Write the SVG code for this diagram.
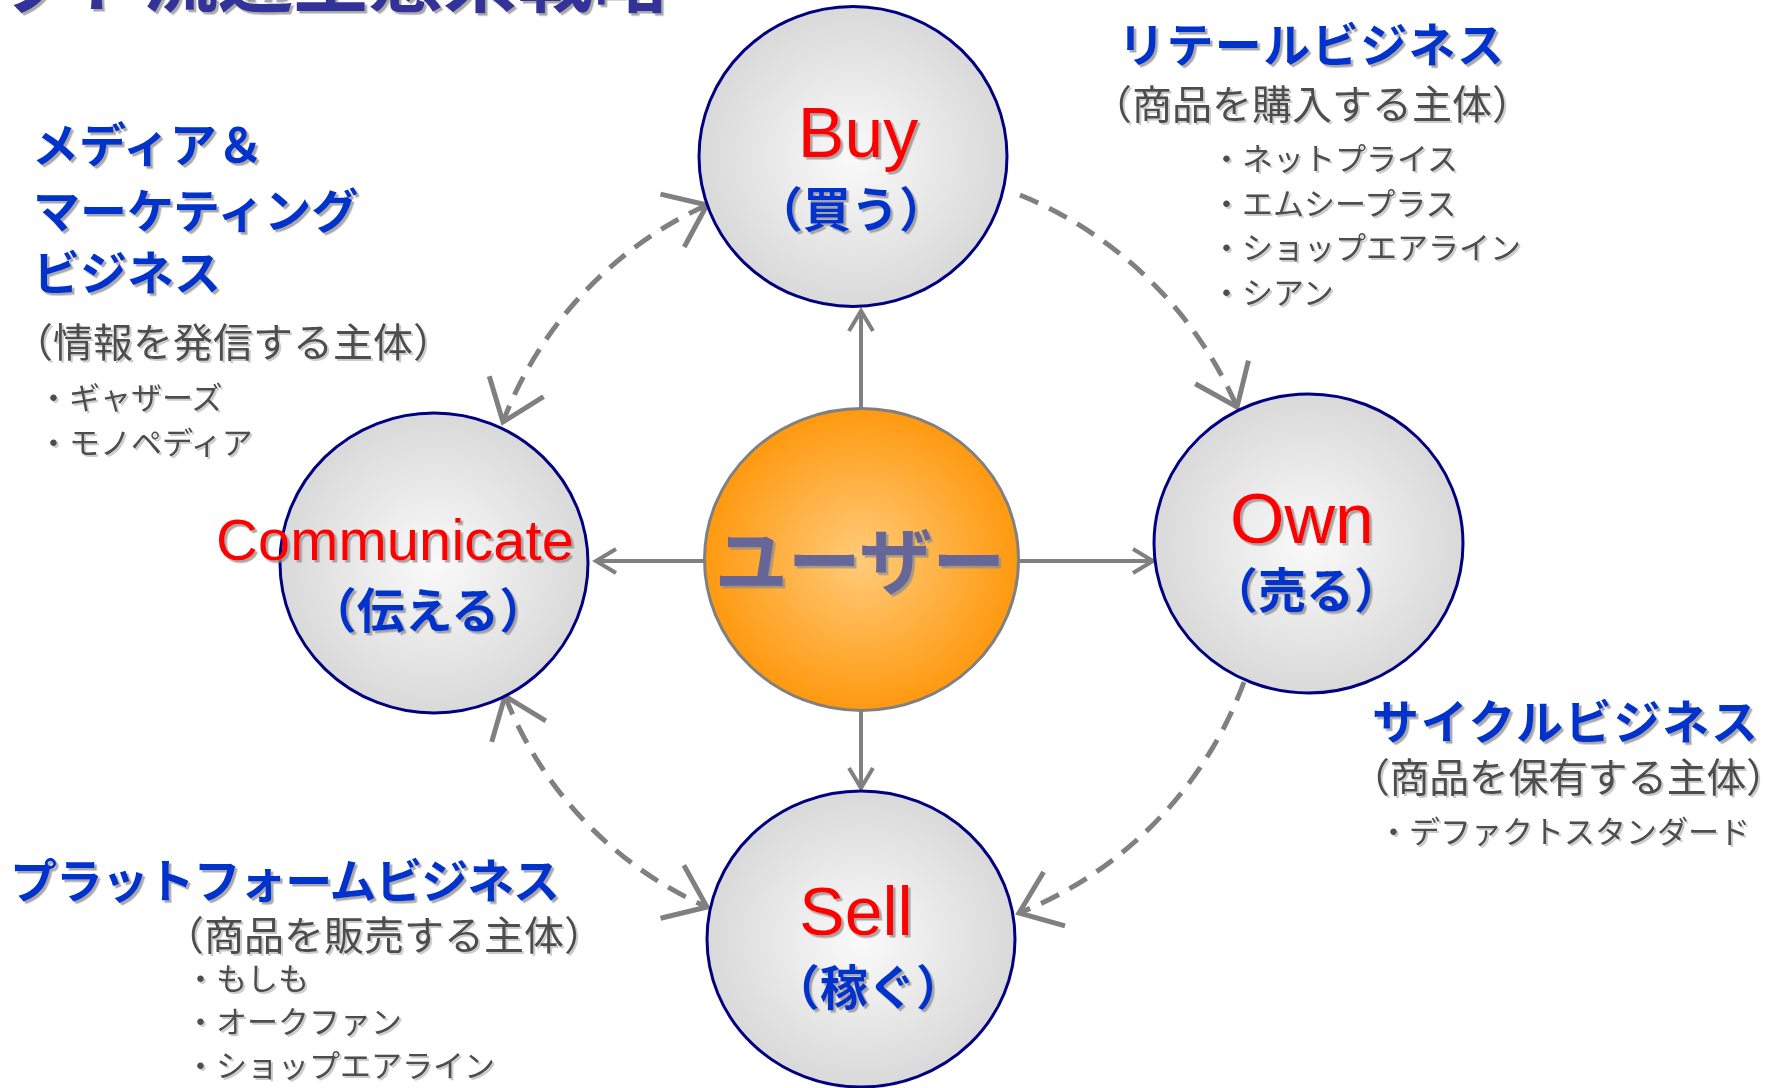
<svg xmlns="http://www.w3.org/2000/svg" width="1789" height="1088" viewBox="0 0 1789 1088">
<defs>
<style>
.jp{font-family:"Noto Sans CJK JP","Noto Sans CJK SC",sans-serif;}
.lat{font-family:"Liberation Sans",Arial,sans-serif;}
.head{font-size:47px;font-weight:700;fill:#0033CC;filter:url(#ts);}
.sub{font-size:40px;fill:#4D4D4D;filter:url(#ts2);}
.item{font-size:31px;fill:#4D4D4D;filter:url(#ts2);}
.en{font-size:70px;fill:#FF0000;filter:url(#ts);}
.ja{font-size:48px;font-weight:700;fill:#0033CC;filter:url(#ts);}
.node{fill:url(#gNode);stroke:#000080;stroke-width:3;}
.dash{fill:none;stroke:#808080;stroke-width:5;stroke-dasharray:20 12;}
.solid{fill:none;stroke:#808080;stroke-width:4;}
</style>
<filter id="ts" x="-5%" y="-10%" width="115%" height="130%">
<feDropShadow dx="2.5" dy="2.5" stdDeviation="0.6" flood-color="#8C8C8C" flood-opacity="0.75"/>
</filter>
<filter id="ts2" x="-5%" y="-10%" width="115%" height="130%">
<feDropShadow dx="2" dy="2" stdDeviation="0.6" flood-color="#AAAAAA" flood-opacity="0.6"/>
</filter>
<radialGradient id="gNode" cx="50%" cy="50%" r="50%">
<stop offset="0" stop-color="#FAFAFA"/>
<stop offset="1" stop-color="#D9D9D9"/>
</radialGradient>
<radialGradient id="gUser" cx="50%" cy="50%" r="50%">
<stop offset="0" stop-color="#FFCB7A"/>
<stop offset="1" stop-color="#FF990F"/>
</radialGradient>
<marker id="vhead" markerUnits="userSpaceOnUse" markerWidth="60" markerHeight="70" viewBox="-45 -35 50 70" refX="0" refY="0" orient="auto-start-reverse" overflow="visible">
<path d="M -38 -29 L 0 0 L -38 29" fill="none" stroke="#808080" stroke-width="5"/>
</marker>
<marker id="shead" markerUnits="userSpaceOnUse" markerWidth="30" markerHeight="30" viewBox="-25 -15 30 30" refX="0" refY="0" orient="auto" overflow="visible">
<path d="M -20 -12 L 0 0 L -20 12" fill="none" stroke="#808080" stroke-width="4"/>
</marker>
</defs>

<rect x="0" y="0" width="1789" height="1088" fill="#FFFFFF"/>

<g id="title">
<text class="jp" x="-82" y="6" font-size="75" font-weight="700" fill="#333399" filter="url(#ts)">ネット流通生態系戦略</text>
</g>

<g id="connectors">
<path class="dash" d="M 707 205 A 388 388 0 0 0 503 422" marker-start="url(#vhead)" marker-end="url(#vhead)"/>
<path class="dash" d="M 1020 195 A 402 402 0 0 1 1237 407" marker-end="url(#vhead)"/>
<path class="dash" d="M 1244 682 A 395 395 0 0 1 1019 913" marker-end="url(#vhead)"/>
<path class="dash" d="M 505 696 A 381 381 0 0 0 707 907" marker-start="url(#vhead)" marker-end="url(#vhead)"/>
<path class="solid" d="M 861 408 L 861 311" marker-end="url(#shead)"/>
<path class="solid" d="M 861 711 L 861 788" marker-end="url(#shead)"/>
<path class="solid" d="M 704 561 L 596 561" marker-end="url(#shead)"/>
<path class="solid" d="M 1019 561 L 1153 561" marker-end="url(#shead)"/>
</g>

<g id="node-buy">
<ellipse class="node" cx="853" cy="156.5" rx="154" ry="150"/>
<text class="lat en" x="858" y="157" text-anchor="middle">Buy</text>
<text class="jp ja" x="851" y="227" text-anchor="middle">（買う）</text>
</g>

<g id="node-communicate">
<ellipse class="node" cx="434" cy="563" rx="154" ry="150"/>
<text class="lat en" x="395" y="560" text-anchor="middle" style="font-size:58px">Communicate</text>
<text class="jp ja" x="428" y="628" text-anchor="middle">（伝える）</text>
</g>

<g id="node-own">
<ellipse class="node" cx="1308.5" cy="543.5" rx="154.5" ry="149.5"/>
<text class="lat en" x="1302" y="543" text-anchor="middle">Own</text>
<text class="jp ja" x="1306" y="608" text-anchor="middle">（売る）</text>
</g>

<g id="node-sell">
<ellipse class="node" cx="861" cy="939" rx="154" ry="148"/>
<text class="lat en" x="856" y="935" text-anchor="middle" style="font-size:68px">Sell</text>
<text class="jp ja" x="868" y="1005" text-anchor="middle">（稼ぐ）</text>
</g>

<g id="node-user">
<ellipse cx="861.5" cy="559.5" rx="157" ry="151" fill="url(#gUser)" stroke="#808080" stroke-width="3"/>
<text class="jp" x="860" y="588" text-anchor="middle" font-size="73" font-weight="700" fill="#666699" filter="url(#ts)">ユーザー</text>
</g>

<g id="label-retail">
<text class="jp head" x="1118" y="62" textLength="386" lengthAdjust="spacing">リテールビジネス</text>
<text class="jp sub" x="1092" y="119">（商品を購入する主体）</text>
<text class="jp item" x="1211" y="170">・ネットプライス</text>
<text class="jp item" x="1211" y="215">・エムシープラス</text>
<text class="jp item" x="1211" y="259">・ショップエアライン</text>
<text class="jp item" x="1211" y="304">・シアン</text>
</g>

<g id="label-media">
<text class="jp head" x="32" y="162">メディア＆</text>
<text class="jp head" x="33" y="228">マーケティング</text>
<text class="jp head" x="33" y="290">ビジネス</text>
<text class="jp sub" x="13" y="357">（情報を発信する主体）</text>
<text class="jp item" x="38" y="409">・ギャザーズ</text>
<text class="jp item" x="38" y="454">・モノペディア</text>
</g>

<g id="label-cycle">
<text class="jp head" x="1372" y="739" textLength="386" lengthAdjust="spacing">サイクルビジネス</text>
<text class="jp sub" x="1350" y="792" textLength="436" lengthAdjust="spacing">（商品を保有する主体）</text>
<text class="jp item" x="1378" y="843">・デファクトスタンダード</text>
</g>

<g id="label-platform">
<text class="jp head" x="10" y="898" textLength="550" lengthAdjust="spacing">プラットフォームビジネス</text>
<text class="jp sub" x="164" y="950">（商品を販売する主体）</text>
<text class="jp item" x="185" y="990">・もしも</text>
<text class="jp item" x="185" y="1033">・オークファン</text>
<text class="jp item" x="185" y="1077">・ショップエアライン</text>
</g>
</svg>
